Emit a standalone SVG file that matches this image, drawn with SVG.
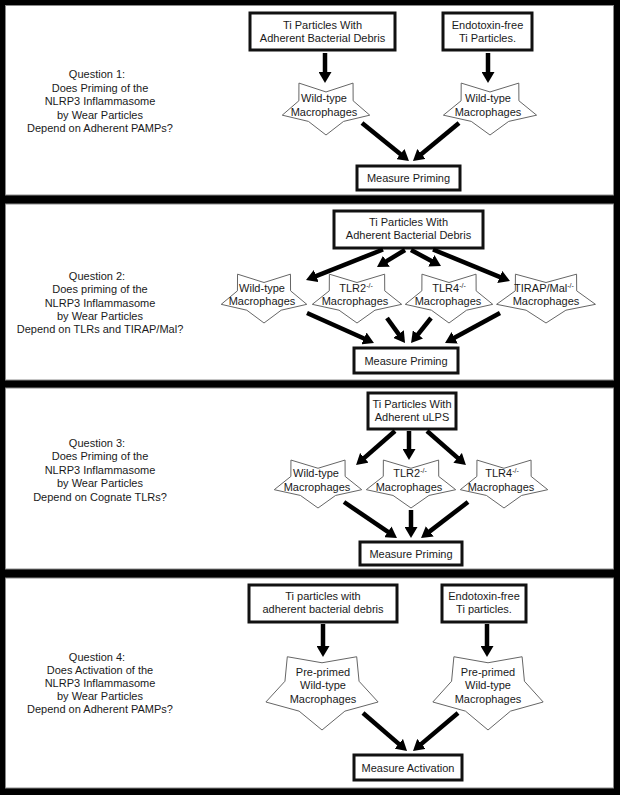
<svg xmlns="http://www.w3.org/2000/svg" width="620" height="795" viewBox="0 0 620 795">
<defs>
<style>
 text { font-family: "Liberation Sans", Arial, sans-serif; font-size: 11px; fill: #1a1a1a; text-anchor: middle; }
 .panel { fill: #ffffff; stroke: #8a8a8a; stroke-width: 1; }
 .box { fill: #ffffff; stroke: #111111; stroke-width: 3; }
 .star { fill: #ffffff; stroke: #666666; stroke-width: 1; vector-effect: non-scaling-stroke; }
 .arrow { stroke: #000000; stroke-width: 4.5; fill: none; marker-end: url(#ah); }
 .sup { font-size: 7px; }
</style>
<marker id="ah" viewBox="0 0 11 13" refX="5" refY="6.5" markerWidth="11" markerHeight="13" markerUnits="userSpaceOnUse" orient="auto">
 <path d="M0,0 L11,6.5 L0,13 z" fill="#000000"/>
</marker>
<polygon id="starA" class="star" vector-effect="non-scaling-stroke" points="0.951,0.309 0.382,0.526 0,1 -0.382,0.526 -0.951,0.309 -0.59,-0.192 -0.588,-0.809 0,-0.5 0.588,-0.809 0.59,-0.192"/>
<polygon id="starB" class="star" vector-effect="non-scaling-stroke" points="0.951,0.309 0.388,0.534 0,1 -0.388,0.534 -0.951,0.309 -0.628,-0.204 -0.588,-0.809 0,-0.66 0.588,-0.809 0.628,-0.204"/>
</defs>

<!-- frame and panels -->
<rect x="0" y="0" width="620" height="795" fill="#000000"/>
<rect class="panel" x="5.5" y="5.5" width="608" height="189.5"/>
<rect class="panel" x="5.5" y="204" width="608" height="176"/>
<rect class="panel" x="5.5" y="388" width="608" height="181"/>
<rect class="panel" x="5.5" y="578" width="608" height="210"/>

<!-- Panel 1 -->
<g id="q1">
 <text x="97" y="78">Question 1:</text>
 <text x="100" y="92">Does Priming of the</text>
 <text x="100" y="105">NLRP3 Inflammasome</text>
 <text x="100" y="119">by Wear Particles</text>
 <text x="100" y="132">Depend on Adherent PAMPs?</text>
</g>
<g id="p1-src-debris">
 <rect class="box" x="250" y="13" width="145" height="37"/>
 <text x="322.5" y="29">Ti Particles With</text>
 <text x="322.5" y="42">Adherent Bacterial Debris</text>
</g>
<g id="p1-src-endofree">
 <rect class="box" x="443" y="13" width="89" height="37"/>
 <text x="487.5" y="29">Endotoxin-free</text>
 <text x="487.5" y="42">Ti Particles.</text>
</g>
<g id="p1-wt1">
 <use href="#starA" transform="translate(326 106.3) scale(46 28.7)"/>
 <text x="324" y="102">Wild-type</text>
 <text x="324" y="116">Macrophages</text>
</g>
<g id="p1-wt2">
 <use href="#starA" transform="translate(490 106.3) scale(49 28.7)"/>
 <text x="488" y="102">Wild-type</text>
 <text x="488" y="116">Macrophages</text>
</g>
<g id="p1-measure">
 <rect class="box" x="357" y="166" width="103" height="24"/>
 <text x="408.5" y="182">Measure Priming</text>
</g>

<!-- Panel 2 -->
<g id="q2">
 <text x="97" y="280">Question 2:</text>
 <text x="100" y="293">Does priming of the</text>
 <text x="100" y="307">NLRP3 Inflammasome</text>
 <text x="100" y="320">by Wear Particles</text>
 <text x="100" y="333">Depend on TLRs and TIRAP/Mal?</text>
</g>
<g id="p2-src-debris">
 <rect class="box" x="334" y="211" width="149" height="37"/>
 <text x="408.5" y="226">Ti Particles With</text>
 <text x="408.5" y="239">Adherent Bacterial Debris</text>
</g>
<g id="p2-wt">
 <use href="#starA" transform="translate(264 296) scale(45 27)"/>
 <text x="262" y="292">Wild-type</text>
 <text x="262" y="305">Macrophages</text>
</g>
<g id="p2-tlr2">
 <use href="#starA" transform="translate(357 296) scale(47 27)"/>
 <text x="356" y="292">TLR2<tspan class="sup" dy="-4">-/-</tspan></text>
 <text x="355" y="305">Macrophages</text>
</g>
<g id="p2-tlr4">
 <use href="#starA" transform="translate(449 296) scale(46 27)"/>
 <text x="449" y="292">TLR4<tspan class="sup" dy="-4">-/-</tspan></text>
 <text x="448" y="305">Macrophages</text>
</g>
<g id="p2-tirap">
 <use href="#starA" transform="translate(546 296) scale(52 27)"/>
 <text x="544" y="292">TIRAP/Mal<tspan class="sup" dy="-4">-/-</tspan></text>
 <text x="546" y="305">Macrophages</text>
</g>
<g id="p2-measure">
 <rect class="box" x="354" y="348" width="104" height="25"/>
 <text x="406" y="364.5">Measure Priming</text>
</g>

<!-- Panel 3 -->
<g id="q3">
 <text x="97" y="447">Question 3:</text>
 <text x="100" y="460">Does Priming of the</text>
 <text x="100" y="474">NLRP3 Inflammasome</text>
 <text x="100" y="487">by Wear Particles</text>
 <text x="100" y="501">Depend on Cognate TLRs?</text>
</g>
<g id="p3-src-ulps">
 <rect class="box" x="368" y="393" width="88" height="36"/>
 <text x="412" y="408">Ti Particles With</text>
 <text x="412" y="421">Adherent uLPS</text>
</g>
<g id="p3-wt">
 <use href="#starA" transform="translate(318 481.5) scale(46 26.5)"/>
 <text x="316" y="477">Wild-type</text>
 <text x="317" y="490.5">Macrophages</text>
</g>
<g id="p3-tlr2">
 <use href="#starA" transform="translate(411 481.5) scale(47 26.5)"/>
 <text x="410" y="477">TLR2<tspan class="sup" dy="-4">-/-</tspan></text>
 <text x="409" y="490.5">Macrophages</text>
</g>
<g id="p3-tlr4">
 <use href="#starA" transform="translate(504 481.5) scale(46 26.5)"/>
 <text x="502" y="477">TLR4<tspan class="sup" dy="-4">-/-</tspan></text>
 <text x="501" y="490.5">Macrophages</text>
</g>
<g id="p3-measure">
 <rect class="box" x="360" y="542" width="102" height="23"/>
 <text x="411" y="557.5">Measure Priming</text>
</g>

<!-- Panel 4 -->
<g id="q4">
 <text x="97" y="661">Question 4:</text>
 <text x="100" y="674">Does Activation of the</text>
 <text x="100" y="687">NLRP3 Inflammasome</text>
 <text x="100" y="700">by Wear Particles</text>
 <text x="100" y="713">Depend on Adherent PAMPs?</text>
</g>
<g id="p4-src-debris">
 <rect class="box" x="249" y="585" width="148" height="37"/>
 <text x="323" y="600">Ti particles with</text>
 <text x="323" y="613">adherent bacterial debris</text>
</g>
<g id="p4-src-endofree">
 <rect class="box" x="442" y="585" width="84" height="37"/>
 <text x="484" y="600">Endotoxin-free</text>
 <text x="484" y="613">Ti particles.</text>
</g>
<g id="p4-wt1">
 <use href="#starB" transform="translate(322 689.5) scale(59 40.5)"/>
 <text x="323" y="676">Pre-primed</text>
 <text x="323" y="689">Wild-type</text>
 <text x="323" y="703">Macrophages</text>
</g>
<g id="p4-wt2">
 <use href="#starB" transform="translate(488 689.5) scale(58 40.5)"/>
 <text x="488" y="676">Pre-primed</text>
 <text x="488" y="689">Wild-type</text>
 <text x="488" y="703">Macrophages</text>
</g>
<g id="p4-measure">
 <rect class="box" x="354" y="755" width="108" height="25"/>
 <text x="408" y="771.5">Measure Activation</text>
</g>

<!-- connectors -->
<g id="connectors">
 <line class="arrow" x1="325" y1="53" x2="325" y2="77"/>
 <line class="arrow" x1="488" y1="53" x2="488" y2="77"/>
 <line class="arrow" x1="362" y1="123" x2="404.3" y2="157.2"/>
 <line class="arrow" x1="459" y1="123" x2="417.6" y2="157.2"/>

 <line class="arrow" x1="383" y1="249.5" x2="311.6" y2="277.8"/>
 <line class="arrow" x1="405" y1="250" x2="382.1" y2="263.9"/>
 <line class="arrow" x1="411" y1="250" x2="435.7" y2="263.2"/>
 <line class="arrow" x1="433" y1="249.5" x2="504.4" y2="278.8"/>
 <line class="arrow" x1="307" y1="313" x2="368.5" y2="340.5"/>
 <line class="arrow" x1="387" y1="318" x2="401.5" y2="338.1"/>
 <line class="arrow" x1="431" y1="318" x2="414.8" y2="338.3"/>
 <line class="arrow" x1="500" y1="313" x2="450.3" y2="340.1"/>

 <line class="arrow" x1="395" y1="431" x2="360.6" y2="461.1"/>
 <line class="arrow" x1="409" y1="431" x2="409" y2="454"/>
 <line class="arrow" x1="427" y1="431" x2="461.4" y2="461.1"/>
 <line class="arrow" x1="344" y1="502" x2="392" y2="534.6"/>
 <line class="arrow" x1="411" y1="510" x2="411" y2="532"/>
 <line class="arrow" x1="468" y1="502" x2="425.8" y2="534.4"/>

 <line class="arrow" x1="323" y1="624" x2="323" y2="651"/>
 <line class="arrow" x1="487" y1="624" x2="487" y2="651"/>
 <line class="arrow" x1="363" y1="713" x2="402.5" y2="747.1"/>
 <line class="arrow" x1="458" y1="713" x2="417.6" y2="747.1"/>
</g>
</svg>
